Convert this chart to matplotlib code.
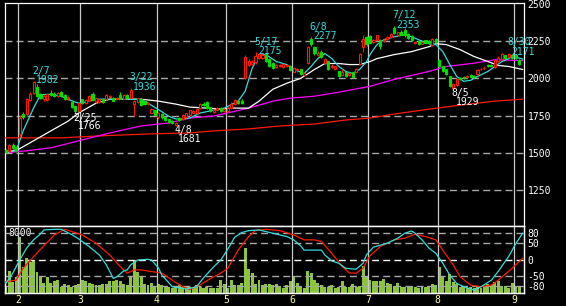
"""
Grafico diario de velas 2022 con medias moviles, volumen y oscilador.
"""
import matplotlib
matplotlib.use("Agg")
import matplotlib.pyplot as plt
import numpy as np
import pandas as pd

plt.rcParams['font.family'] = 'DejaVu Sans Mono'

# dias habiles (feriados de la bolsa de Tokio 2022)
feriados = ["2022-02-11", "2022-02-23", "2022-03-21", "2022-04-29", "2022-05-03",
            "2022-05-04", "2022-05-05", "2022-07-18", "2022-08-11"]
dias = pd.bdate_range("2022-01-26", "2022-09-02", freq="C", holidays=feriados)

apertura = [1518, 1510, 1555, 1540, 1625, 1760, 1760, 1855, 1900, 1945,
            1892, 1860, 1855, 1900, 1895, 1880, 1910, 1890, 1868, 1838,
            1812, 1778, 1858, 1835, 1850, 1898, 1845, 1840, 1862, 1860,
            1875, 1870, 1862, 1885, 1862, 1885, 1870, 1830, 1840, 1860,
            1845, 1825, 1770, 1785, 1738, 1760, 1740, 1725, 1712, 1688,
            1735, 1728, 1740, 1755, 1770, 1768, 1800, 1830, 1840, 1805,
            1775, 1785, 1800, 1782, 1780, 1800, 1825, 1850, 1850, 2000,
            2093, 2100, 2110, 2140, 2135, 2165, 2130, 2105, 2075, 2080,
            2078, 2085, 2085, 2045, 2055, 2060, 2025, 2105, 2262, 2210,
            2160, 2180, 2105, 2115, 2075, 2065, 2047, 2025, 2045, 2025,
            2040, 2045, 2095, 2210, 2280, 2285, 2245, 2260, 2255, 2250,
            2265, 2275, 2340, 2290, 2315, 2325, 2300, 2285, 2235, 2250,
            2232, 2255, 2250, 2225, 2265, 2125, 2080, 2060, 2013, 1935,
            1955, 2005, 2010, 2010, 2025, 2018, 2030, 2060, 2068, 2090,
            2090, 2075, 2115, 2130, 2155, 2145, 2160, 2155, 2125]
maximo = [1522, 1560, 1562, 1545, 1755, 1775, 1870, 1905, 1982, 1960,
          1900, 1885, 1897, 1925, 1905, 1910, 1915, 1895, 1882, 1845,
          1818, 1840, 1862, 1862, 1890, 1905, 1870, 1868, 1866, 1895,
          1890, 1875, 1875, 1905, 1892, 1892, 1936, 1855, 1870, 1865,
          1850, 1840, 1800, 1790, 1772, 1768, 1745, 1730, 1718, 1705,
          1740, 1758, 1770, 1790, 1790, 1798, 1835, 1842, 1850, 1810,
          1795, 1805, 1805, 1800, 1805, 1840, 1860, 1855, 1858, 2160,
          2130, 2125, 2175, 2170, 2168, 2170, 2135, 2110, 2098, 2095,
          2102, 2098, 2090, 2075, 2068, 2062, 2042, 2220, 2277, 2215,
          2182, 2190, 2140, 2120, 2095, 2085, 2050, 2060, 2050, 2045,
          2045, 2072, 2170, 2295, 2285, 2290, 2265, 2295, 2265, 2265,
          2285, 2305, 2353, 2315, 2325, 2340, 2305, 2290, 2250, 2255,
          2252, 2260, 2255, 2270, 2270, 2130, 2085, 2065, 2018, 1970,
          2000, 2010, 2015, 2022, 2030, 2025, 2062, 2072, 2080, 2095,
          2095, 2130, 2148, 2168, 2160, 2171, 2165, 2160, 2130]
minimo = [1500, 1505, 1525, 1508, 1605, 1725, 1750, 1845, 1895, 1875,
          1862, 1850, 1850, 1880, 1875, 1875, 1878, 1855, 1855, 1800,
          1766, 1772, 1828, 1828, 1845, 1850, 1835, 1832, 1832, 1855,
          1868, 1845, 1858, 1858, 1858, 1862, 1865, 1745, 1835, 1815,
          1820, 1820, 1765, 1750, 1730, 1730, 1712, 1698, 1692, 1681,
          1715, 1722, 1735, 1750, 1765, 1762, 1795, 1812, 1795, 1775,
          1770, 1778, 1775, 1775, 1775, 1795, 1820, 1830, 1828, 1998,
          2085, 2090, 2100, 2130, 2128, 2110, 2075, 2060, 2070, 2075,
          2072, 2078, 2050, 2040, 2045, 2025, 2018, 2100, 2215, 2160,
          2150, 2140, 2100, 2055, 2068, 2055, 2008, 2020, 2010, 2015,
          2005, 2040, 2090, 2180, 2220, 2235, 2238, 2255, 2200, 2245,
          2260, 2270, 2300, 2285, 2290, 2280, 2265, 2250, 2228, 2225,
          2228, 2235, 2230, 2215, 2240, 2075, 2045, 2025, 1940, 1929,
          1950, 1990, 1995, 2005, 2005, 2002, 2025, 2055, 2062, 2075,
          2075, 2070, 2110, 2125, 2130, 2140, 2130, 2130, 2090]
cierre = [1505, 1550, 1530, 1515, 1735, 1738, 1860, 1895, 1975, 1880,
          1870, 1880, 1893, 1885, 1880, 1900, 1882, 1862, 1875, 1805,
          1782, 1832, 1835, 1852, 1880, 1855, 1865, 1862, 1838, 1890,
          1880, 1850, 1870, 1862, 1888, 1868, 1925, 1848, 1865, 1820,
          1828, 1835, 1795, 1755, 1765, 1738, 1718, 1705, 1700, 1698,
          1722, 1752, 1765, 1785, 1780, 1792, 1830, 1820, 1800, 1782,
          1790, 1800, 1782, 1795, 1800, 1830, 1855, 1835, 1835, 2145,
          2120, 2112, 2150, 2162, 2160, 2118, 2085, 2070, 2092, 2088,
          2095, 2092, 2058, 2068, 2060, 2030, 2038, 2210, 2228, 2168,
          2172, 2145, 2130, 2060, 2085, 2080, 2015, 2045, 2015, 2035,
          2010, 2065, 2165, 2265, 2230, 2240, 2255, 2290, 2215, 2258,
          2278, 2300, 2305, 2310, 2295, 2290, 2270, 2255, 2245, 2230,
          2248, 2240, 2235, 2265, 2245, 2080, 2050, 2030, 1947, 1965,
          1995, 1995, 2000, 2015, 2010, 2008, 2058, 2065, 2073, 2080,
          2080, 2125, 2140, 2165, 2140, 2165, 2140, 2135, 2095]
volumen = [780, 2860, 1430, 2080, 7280, 3380, 4550, 4030, 4290, 2730,
           2210, 1300, 2080, 1300, 1560, 1690, 780, 1170, 1040, 780,
           1040, 1170, 1690, 1560, 1300, 1170, 1040, 1040, 1170, 1170,
           1560, 1560, 1690, 1560, 1170, 1040, 2210, 4290, 2730, 2080,
           1170, 1040, 1300, 780, 1170, 1040, 780, 780, 650, 780,
           1040, 780, 780, 780, 650, 1040, 780, 650, 780, 650,
           650, 650, 1690, 1170, 650, 1690, 1040, 1040, 1300, 5850,
           3120, 2600, 1170, 1690, 1040, 1170, 1170, 1040, 1170, 910,
           650, 1040, 1560, 2210, 1300, 910, 650, 2860, 2600, 1690,
           1300, 1040, 780, 780, 1040, 650, 780, 1560, 780, 780,
           1170, 780, 910, 3510, 2080, 1690, 1560, 1560, 1560, 1820,
           1300, 1170, 910, 1300, 780, 780, 910, 910, 780, 650,
           780, 780, 910, 1170, 1040, 3380, 2080, 1560, 2470, 1430,
           1170, 780, 780, 650, 780, 650, 780, 650, 780, 1170,
           1040, 1430, 1560, 910, 910, 650, 1300, 910, 780]

# medias moviles (dia habil, valor)
media_corta_dia = [0, 3, 5, 8, 10, 13, 16, 18, 21, 24, 26, 35, 39, 41, 44, 47, 49, 51, 53, 56,
                   63, 67, 69, 71, 73, 75, 78, 81, 83, 86, 88, 90, 92, 94, 96, 98, 100, 102, 104, 105,
                   107, 109, 112, 115, 117, 119, 122, 124, 126, 128, 130, 132, 134, 136, 139, 141, 143, 145, 146, 148,
                   149]
media_corta = [1505, 1513, 1647, 1800, 1890, 1893, 1880, 1858, 1833, 1845, 1860, 1860, 1858, 1833, 1790, 1745, 1727, 1727, 1733, 1767,
               1800, 1847, 1913, 2067, 2155, 2160, 2113, 2093, 2060, 2033, 2080, 2135, 2167, 2133, 2080, 2047, 2033, 2060, 2113, 2160,
               2227, 2260, 2280, 2293, 2280, 2260, 2233, 2227, 2180, 2093, 2013, 1980, 1987, 2013, 2047, 2080, 2113, 2133, 2147, 2137,
               2130]
media_25_dia = [0, 4, 8, 13, 18, 21, 26, 30, 39, 44, 49, 53, 58, 62, 65, 70, 73, 77, 81, 85,
                89, 92, 96, 99, 102, 105, 107, 112, 117, 122, 124, 127, 131, 135, 139, 142, 145, 149]
media_25 = [1500, 1527, 1580, 1647, 1713, 1767, 1833, 1860, 1860, 1847, 1827, 1807, 1800, 1793, 1800, 1800, 1847, 1927, 1967, 2000,
            2060, 2100, 2100, 2093, 2093, 2113, 2133, 2160, 2180, 2213, 2233, 2227, 2193, 2147, 2113, 2087, 2080, 2060]
media_75_dia = [0, 6, 13, 21, 30, 39, 47, 53, 60, 70, 77, 82, 89, 96, 105, 112, 122, 127, 135, 141, 149]
media_75 = [1500, 1513, 1533, 1580, 1633, 1680, 1700, 1733, 1747, 1800, 1847, 1867, 1880, 1907, 1947, 1993, 2047, 2080, 2102, 2125, 2120]
media_200_dia = [0, 16, 27, 42, 53, 60, 70, 79, 89, 98, 105, 112, 122, 131, 141, 149]
media_200 = [1600, 1600, 1613, 1627, 1633, 1647, 1660, 1680, 1693, 1720, 1733, 1760, 1793, 1820, 1847, 1860]

# oscilador
osc_rapido_dia = [0, 2, 4, 6, 8, 10, 11, 14, 16, 19, 21, 24, 27, 29, 31, 32, 34, 35, 36, 38,
                  41, 42, 44, 45, 47, 48, 52, 55, 57, 60, 62, 64, 66, 68, 70, 73, 77, 81, 83, 85,
                  86, 91, 92, 94, 96, 98, 101, 103, 104, 106, 110, 113, 115, 117, 118, 120, 122, 124, 126, 128,
                  130, 132, 135, 137, 140, 142, 145, 147, 149]
osc_rapido = [-72, -41, -1, 35, 60, 78, 90, 92, 92, 76, 63, 40, 14, -16, -57, -52, -34, -31, -16, -1,
              1, -1, -25, -47, -70, -82, -89, -82, -55, -21, -1, 32, 68, 82, 88, 90, 80, 70, 60, 42,
              29, 29, 14, -4, -11, -26, -29, -11, 15, 38, 50, 65, 80, 87, 80, 60, 35, 19, -11, -47,
              -72, -82, -92, -82, -62, -35, 10, 48, 80]
osc_lento_dia = [0, 3, 5, 8, 11, 14, 17, 20, 22, 26, 30, 33, 35, 37, 39, 42, 45, 48, 51, 53,
                 56, 59, 62, 64, 67, 70, 72, 75, 79, 83, 86, 89, 91, 94, 97, 99, 101, 103, 105, 108,
                 112, 115, 118, 121, 124, 126, 129, 131, 134, 137, 140, 142, 146, 149]
osc_lento = [-67, -62, -26, 9, 42, 75, 92, 82, 75, 50, 14, -21, -41, -31, -31, -36, -41, -62, -82, -90,
             -77, -57, -41, -26, 29, 70, 88, 92, 88, 75, 60, 60, 55, 19, -21, -40, -41, -26, 12, 40,
             60, 65, 77, 70, 60, 29, -16, -52, -77, -82, -77, -62, -26, 4]

# maximos y minimos marcados
marca_fecha = ["2022-02-07", "2022-02-25", "2022-03-22", "2022-04-08", "2022-05-17",
               "2022-06-08", "2022-07-12", "2022-08-05", "2022-08-30"]
marca_valor = [1982, 1766, 1936, 1681, 2175, 2277, 2353, 1929, 2171]
marca_alto = [True, False, True, False, True, True, True, False, True]

ROJO = '#ff1a00'
VERDE = '#00dd00'
CIAN = '#33dddd'
GRIS = '#a8a8a8'
PX = 0.72  # puntos por pixel a 100 dpi
RAYAS = (0, (5, 3))


def dibujar_velas(ax):
    for i in range(len(dias)):
        sube = cierre[i] >= apertura[i]
        col = ROJO if sube else VERDE
        ax.vlines(i, minimo[i], maximo[i], color=col, lw=0.8, zorder=4)
        abajo = min(apertura[i], cierre[i])
        alto = max(abs(cierre[i] - apertura[i]), 2)
        ax.bar(i, alto, bottom=abajo, width=0.6,
               facecolor='black' if sube else col, edgecolor=col, linewidth=0.8, zorder=5)


def marcar(ax, fecha, valor, alto):
    i = dias.get_loc(pd.Timestamp(fecha))
    mes, dia = fecha[5:7].lstrip('0'), fecha[8:].lstrip('0')
    col = CIAN if alto else 'white'
    if alto:
        dy_fecha, dy_valor = 7.5, -2
    else:
        dy_fecha, dy_valor = -7.5, -16
    ax.annotate(mes + "/" + dia, (i, valor), xytext=(-1.5 * PX, dy_fecha * PX),
                textcoords='offset points', ha='left', va='baseline',
                color=col, fontsize=7, zorder=6, annotation_clip=False)
    ax.annotate(str(valor), (i, valor), xytext=(2.5 * PX, dy_valor * PX),
                textcoords='offset points', ha='left', va='baseline',
                color=col, fontsize=7, zorder=6, annotation_clip=False)


x = np.arange(len(dias))
meses = dias.month
cambio = [i for i in range(1, len(dias)) if meses[i] != meses[i - 1]]
pos_mes = [i - 0.5 for i in cambio]
etiq_mes = [str(meses[i]) for i in cambio]

fig = plt.figure(figsize=(5.66, 3.06), dpi=100, facecolor='black')
ax = fig.add_axes([5 / 566, 1 - 226 / 306, 519 / 566, 223 / 306], facecolor='black')
ax2 = fig.add_axes([5 / 566, 1 - 293 / 306, 519 / 566, 67 / 306], facecolor='black', sharex=ax)
osc = ax2.twinx()

# panel principal
for y in [1250, 1500, 1750, 2000, 2250]:
    ax.axhline(y, color=GRIS, lw=1.0, ls=RAYAS, zorder=2)
for p in pos_mes:
    ax.axvline(p, color='#c8c8c8', lw=0.9, zorder=2)

ax.plot(media_200_dia, media_200, color=ROJO, lw=0.9, zorder=3)
ax.plot(media_75_dia, media_75, color='#ff00ff', lw=0.9, zorder=3)
ax.plot(media_25_dia, media_25, color='white', lw=0.9, zorder=3)
ax.plot(media_corta_dia, media_corta, color=CIAN, lw=0.9, zorder=3)
dibujar_velas(ax)
for f, v, a in zip(marca_fecha, marca_valor, marca_alto):
    marcar(ax, f, v, a)

ax.set_xlim(-0.23, 149.4)
ax.set_ylim(1007, 2507)
ax.yaxis.tick_right()
ax.set_yticks([1250, 1500, 1750, 2000, 2250, 2500])
ax.tick_params(axis='y', colors='white', length=0, pad=2.5, labelsize=7)
ax.tick_params(axis='x', bottom=False, labelbottom=False)

# volumen
ax2.bar(x, volumen, width=0.85, color='#8cc43c', zorder=2)
ax2.set_ylim(0, 8710)
ax2.tick_params(axis='y', left=False, labelleft=False, right=False)
ax2.set_xticks(pos_mes, etiq_mes)
ax2.tick_params(axis='x', colors='#ffff99', length=0, pad=1.4, labelsize=7)
ax2.text(3 / 519, 1 - 2 / 67, "8000", transform=ax2.transAxes, color='white',
         fontsize=7, ha='left', va='top')

# oscilador
for y in [80, 50, -50, -80]:
    osc.axhline(y, color=GRIS, lw=1.0, ls=RAYAS, zorder=1)
osc.axhline(0, color='white', lw=1.0, ls=RAYAS, zorder=1)
for p in pos_mes:
    osc.axvline(p, color='#c8c8c8', lw=0.9, zorder=1)
osc.plot(osc_lento_dia, osc_lento, color=ROJO, lw=0.9, zorder=3)
osc.plot(osc_rapido_dia, osc_rapido, color=CIAN, lw=0.9, zorder=3)
osc.set_ylim(-101, 102)
osc.set_yticks([80, 50, 0, -50, -80], ['80', '50', '0', '-50', '-80'])
osc.tick_params(axis='y', colors='white', length=0, pad=2.5, labelsize=7)

for a in (ax, ax2, osc):
    for s in a.spines.values():
        s.set_color('white')
        s.set_linewidth(0.9)

fig.savefig("out.png", dpi=100, facecolor='black')
